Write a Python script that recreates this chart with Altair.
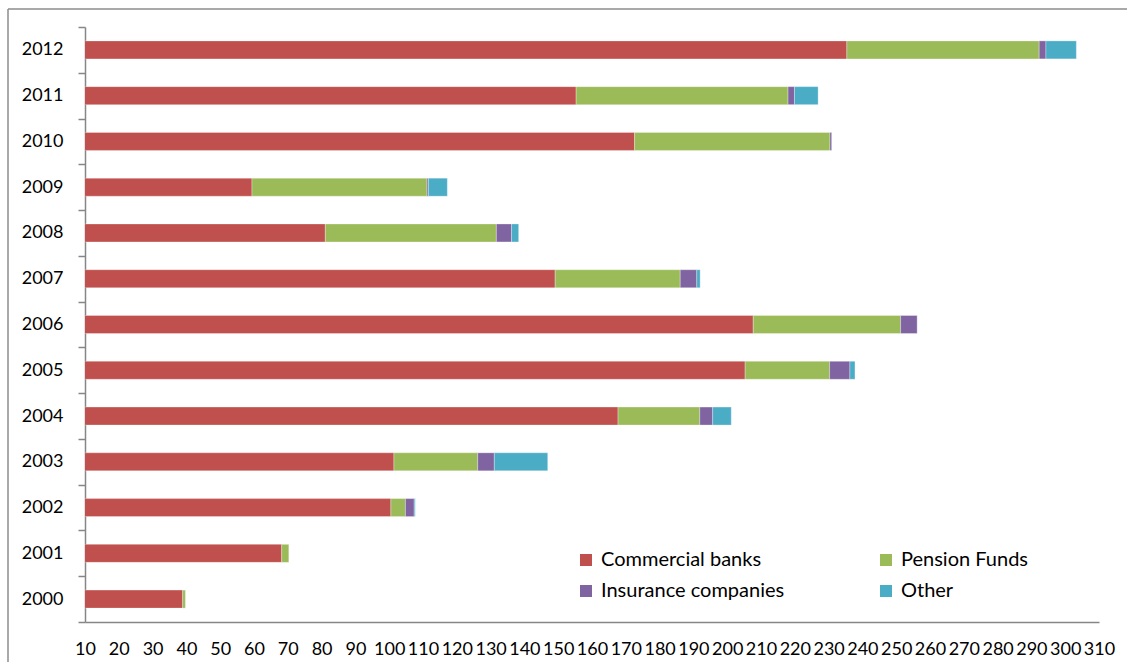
import altair as alt
import pandas as pd

# ---- data ----
years = [2000, 2001, 2002, 2003, 2004, 2005, 2006, 2007, 2008, 2009, 2010, 2011, 2012]
commercial_banks = [38.9, 68.2, 100.5, 101.4, 167.7, 205.3, 207.7, 149.1, 81.1, 59.4, 172.6, 155.3, 235.4]
pension_funds = [0.8, 2.1, 4.3, 24.8, 24.2, 25.0, 43.6, 37.0, 50.6, 51.8, 57.8, 62.7, 56.9]
insurance_companies = [0, 0, 2.6, 4.9, 3.8, 6.0, 4.9, 4.9, 4.5, 0.4, 0.5, 1.9, 2.0]
other = [0, 0, 0.3, 15.8, 5.5, 1.5, 0, 1.0, 2.1, 5.6, 0, 7.0, 9.0]
series_names = ["Commercial banks", "Pension Funds", "Insurance companies", "Other"]
series_colors = ["#C0504D", "#9BBB59", "#8064A2", "#4BACC6"]
x_ticks = list(range(10, 311, 10))

FONT = "Lato"
GREY = "#868686"
W, H = 1014, 595

series_values = [commercial_banks, pension_funds, insurance_companies, other]
rows = []
for i, yr in enumerate(years):
    for k, name in enumerate(series_names):
        v = series_values[k][i]
        if v > 0:
            rows.append({"year": str(yr), "series": name, "value": v, "order": k})
df = pd.DataFrame(rows)

# legend fills column by column: order so rows read
# "Commercial banks | Pension Funds" and "Insurance companies | Other"
legend_order = [series_names[0], series_names[2], series_names[1], series_names[3]]
legend_colors = [series_colors[0], series_colors[2], series_colors[1], series_colors[3]]

bars = alt.Chart(df).mark_bar(
    size=18, clip=True, stroke="white", strokeWidth=0.6, strokeOpacity=0.5
).encode(
    y=alt.Y(
        "year:O",
        sort="descending",
        title=None,
        scale=alt.Scale(paddingInner=0, paddingOuter=0),
        axis=alt.Axis(
            domainColor=GREY, domainWidth=1.5,
            tickColor=GREY, tickWidth=1.5, tickSize=7, tickBand="extent",
            labelFont=FONT, labelFontSize=18, labelColor="black",
            labelPadding=15, grid=False,
        ),
    ),
    x=alt.X(
        "value:Q",
        stack="zero",
        title=None,
        scale=alt.Scale(domain=[10, 310], nice=False, zero=False),
        axis=alt.Axis(
            values=x_ticks, ticks=False, grid=False,
            domainColor=GREY, domainWidth=1.5,
            labelFont=FONT, labelFontSize=18, labelColor="black",
            labelPadding=18, labelOverlap=False, labelFlush=False, labelBound=False,
        ),
    ),
    color=alt.Color(
        "series:N",
        scale=alt.Scale(domain=legend_order, range=legend_colors),
        legend=alt.Legend(
            title=None, orient="none", legendX=491, legendY=523,
            columns=2, columnPadding=91, rowPadding=11,
            symbolType="square", symbolSize=144, symbolStrokeWidth=0,
            labelFont=FONT, labelFontSize=20, labelColor="black",
            labelOffset=5, labelLimit=400, padding=0,
        ),
    ),
    order=alt.Order("order:Q"),
)

one = pd.DataFrame({"a": [0]})
top_border = alt.Chart(one).mark_rule(color="#8c8c8c", strokeWidth=1.5).encode(
    x=alt.value(-77), x2=alt.value(1127), y=alt.value(-18)
)
left_border = alt.Chart(one).mark_rule(color="#8c8c8c", strokeWidth=1.5).encode(
    x=alt.value(-77), y=alt.value(-18), y2=alt.value(700)
)

chart = alt.layer(bars, top_border, left_border).properties(
    width=W,
    height=H,
    padding={"left": 85, "top": 27, "right": 28, "bottom": 40},
    autosize=alt.AutoSizeParams(type="none"),
    background="white",
).configure_view(stroke=None)

chart.save("out.html", embed_options={"renderer": "svg", "actions": False})
